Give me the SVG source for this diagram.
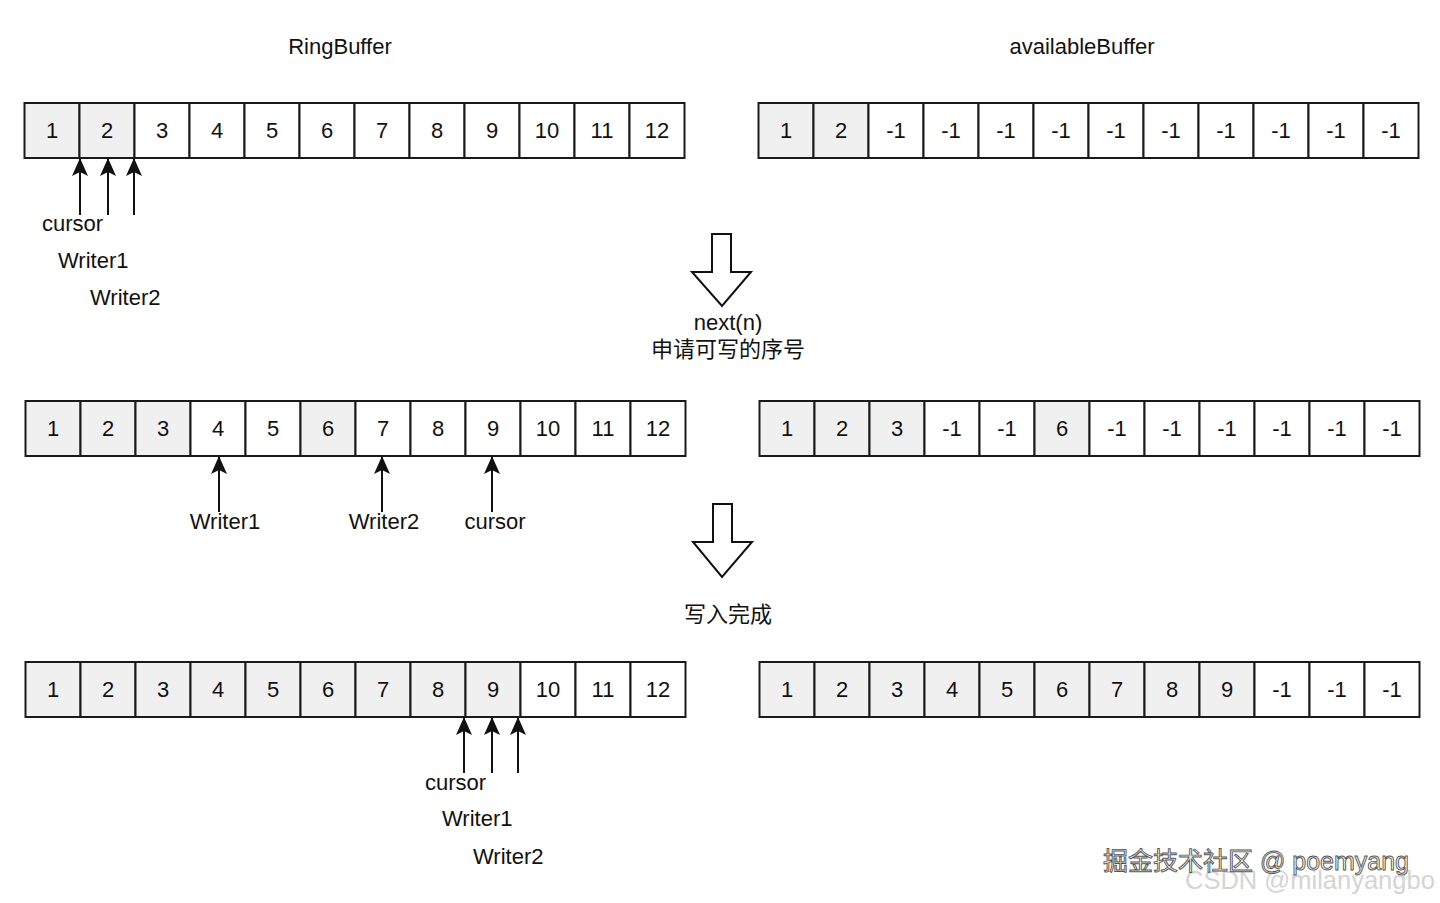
<svg xmlns="http://www.w3.org/2000/svg" width="1440" height="903" viewBox="0 0 1440 903">
<style>
.c{stroke:#1a1a1a;stroke-width:2;fill:#fff}
.g{stroke:#1a1a1a;stroke-width:2;fill:#f0f0f0}
.t{font-family:"Liberation Sans",Arial,sans-serif;font-size:22px;fill:#111;text-anchor:middle}
.l{font-family:"Liberation Sans",Arial,sans-serif;font-size:22px;fill:#111}
.z{font-family:"Liberation Sans","Noto Sans CJK SC",sans-serif;font-size:22px;fill:#111;text-anchor:middle}
.p{stroke:#111;stroke-width:2;fill:none;marker-end:url(#ah)}
.big{stroke:#111;stroke-width:2;fill:#fff;stroke-linejoin:miter}
</style>
<defs>
<marker id="ah" viewBox="0 0 18 16" refX="17" refY="8" markerWidth="18" markerHeight="16" markerUnits="userSpaceOnUse" orient="auto">
<path d="M0,0 L18,8 L0,16 L4,8 Z" fill="#111"/>
</marker>
</defs>
<rect width="1440" height="903" fill="#fff"/>

<text class="t" x="340" y="54">RingBuffer</text>
<text class="t" x="1082" y="54">availableBuffer</text>

<g id="ring1">
<rect class="g" x="24.5" y="103" width="55" height="55"/><text class="t" x="52" y="138">1</text>
<rect class="g" x="79.5" y="103" width="55" height="55"/><text class="t" x="107" y="138">2</text>
<rect class="c" x="134.5" y="103" width="55" height="55"/><text class="t" x="162" y="138">3</text>
<rect class="c" x="189.5" y="103" width="55" height="55"/><text class="t" x="217" y="138">4</text>
<rect class="c" x="244.5" y="103" width="55" height="55"/><text class="t" x="272" y="138">5</text>
<rect class="c" x="299.5" y="103" width="55" height="55"/><text class="t" x="327" y="138">6</text>
<rect class="c" x="354.5" y="103" width="55" height="55"/><text class="t" x="382" y="138">7</text>
<rect class="c" x="409.5" y="103" width="55" height="55"/><text class="t" x="437" y="138">8</text>
<rect class="c" x="464.5" y="103" width="55" height="55"/><text class="t" x="492" y="138">9</text>
<rect class="c" x="519.5" y="103" width="55" height="55"/><text class="t" x="547" y="138">10</text>
<rect class="c" x="574.5" y="103" width="55" height="55"/><text class="t" x="602" y="138">11</text>
<rect class="c" x="629.5" y="103" width="55" height="55"/><text class="t" x="657" y="138">12</text>
</g>

<g id="avail1">
<rect class="g" x="758.5" y="103" width="55" height="55"/><text class="t" x="786" y="138">1</text>
<rect class="g" x="813.5" y="103" width="55" height="55"/><text class="t" x="841" y="138">2</text>
<rect class="c" x="868.5" y="103" width="55" height="55"/><text class="t" x="896" y="138">-1</text>
<rect class="c" x="923.5" y="103" width="55" height="55"/><text class="t" x="951" y="138">-1</text>
<rect class="c" x="978.5" y="103" width="55" height="55"/><text class="t" x="1006" y="138">-1</text>
<rect class="c" x="1033.5" y="103" width="55" height="55"/><text class="t" x="1061" y="138">-1</text>
<rect class="c" x="1088.5" y="103" width="55" height="55"/><text class="t" x="1116" y="138">-1</text>
<rect class="c" x="1143.5" y="103" width="55" height="55"/><text class="t" x="1171" y="138">-1</text>
<rect class="c" x="1198.5" y="103" width="55" height="55"/><text class="t" x="1226" y="138">-1</text>
<rect class="c" x="1253.5" y="103" width="55" height="55"/><text class="t" x="1281" y="138">-1</text>
<rect class="c" x="1308.5" y="103" width="55" height="55"/><text class="t" x="1336" y="138">-1</text>
<rect class="c" x="1363.5" y="103" width="55" height="55"/><text class="t" x="1391" y="138">-1</text>
</g>

<g id="ring2">
<rect class="g" x="25.5" y="401" width="55" height="55"/><text class="t" x="53" y="436">1</text>
<rect class="g" x="80.5" y="401" width="55" height="55"/><text class="t" x="108" y="436">2</text>
<rect class="g" x="135.5" y="401" width="55" height="55"/><text class="t" x="163" y="436">3</text>
<rect class="c" x="190.5" y="401" width="55" height="55"/><text class="t" x="218" y="436">4</text>
<rect class="c" x="245.5" y="401" width="55" height="55"/><text class="t" x="273" y="436">5</text>
<rect class="g" x="300.5" y="401" width="55" height="55"/><text class="t" x="328" y="436">6</text>
<rect class="c" x="355.5" y="401" width="55" height="55"/><text class="t" x="383" y="436">7</text>
<rect class="c" x="410.5" y="401" width="55" height="55"/><text class="t" x="438" y="436">8</text>
<rect class="c" x="465.5" y="401" width="55" height="55"/><text class="t" x="493" y="436">9</text>
<rect class="c" x="520.5" y="401" width="55" height="55"/><text class="t" x="548" y="436">10</text>
<rect class="c" x="575.5" y="401" width="55" height="55"/><text class="t" x="603" y="436">11</text>
<rect class="c" x="630.5" y="401" width="55" height="55"/><text class="t" x="658" y="436">12</text>
</g>

<g id="avail2">
<rect class="g" x="759.5" y="401" width="55" height="55"/><text class="t" x="787" y="436">1</text>
<rect class="g" x="814.5" y="401" width="55" height="55"/><text class="t" x="842" y="436">2</text>
<rect class="g" x="869.5" y="401" width="55" height="55"/><text class="t" x="897" y="436">3</text>
<rect class="c" x="924.5" y="401" width="55" height="55"/><text class="t" x="952" y="436">-1</text>
<rect class="c" x="979.5" y="401" width="55" height="55"/><text class="t" x="1007" y="436">-1</text>
<rect class="g" x="1034.5" y="401" width="55" height="55"/><text class="t" x="1062" y="436">6</text>
<rect class="c" x="1089.5" y="401" width="55" height="55"/><text class="t" x="1117" y="436">-1</text>
<rect class="c" x="1144.5" y="401" width="55" height="55"/><text class="t" x="1172" y="436">-1</text>
<rect class="c" x="1199.5" y="401" width="55" height="55"/><text class="t" x="1227" y="436">-1</text>
<rect class="c" x="1254.5" y="401" width="55" height="55"/><text class="t" x="1282" y="436">-1</text>
<rect class="c" x="1309.5" y="401" width="55" height="55"/><text class="t" x="1337" y="436">-1</text>
<rect class="c" x="1364.5" y="401" width="55" height="55"/><text class="t" x="1392" y="436">-1</text>
</g>

<g id="ring3">
<rect class="g" x="25.5" y="662" width="55" height="55"/><text class="t" x="53" y="697">1</text>
<rect class="g" x="80.5" y="662" width="55" height="55"/><text class="t" x="108" y="697">2</text>
<rect class="g" x="135.5" y="662" width="55" height="55"/><text class="t" x="163" y="697">3</text>
<rect class="g" x="190.5" y="662" width="55" height="55"/><text class="t" x="218" y="697">4</text>
<rect class="g" x="245.5" y="662" width="55" height="55"/><text class="t" x="273" y="697">5</text>
<rect class="g" x="300.5" y="662" width="55" height="55"/><text class="t" x="328" y="697">6</text>
<rect class="g" x="355.5" y="662" width="55" height="55"/><text class="t" x="383" y="697">7</text>
<rect class="g" x="410.5" y="662" width="55" height="55"/><text class="t" x="438" y="697">8</text>
<rect class="g" x="465.5" y="662" width="55" height="55"/><text class="t" x="493" y="697">9</text>
<rect class="c" x="520.5" y="662" width="55" height="55"/><text class="t" x="548" y="697">10</text>
<rect class="c" x="575.5" y="662" width="55" height="55"/><text class="t" x="603" y="697">11</text>
<rect class="c" x="630.5" y="662" width="55" height="55"/><text class="t" x="658" y="697">12</text>
</g>

<g id="avail3">
<rect class="g" x="759.5" y="662" width="55" height="55"/><text class="t" x="787" y="697">1</text>
<rect class="g" x="814.5" y="662" width="55" height="55"/><text class="t" x="842" y="697">2</text>
<rect class="g" x="869.5" y="662" width="55" height="55"/><text class="t" x="897" y="697">3</text>
<rect class="g" x="924.5" y="662" width="55" height="55"/><text class="t" x="952" y="697">4</text>
<rect class="g" x="979.5" y="662" width="55" height="55"/><text class="t" x="1007" y="697">5</text>
<rect class="g" x="1034.5" y="662" width="55" height="55"/><text class="t" x="1062" y="697">6</text>
<rect class="g" x="1089.5" y="662" width="55" height="55"/><text class="t" x="1117" y="697">7</text>
<rect class="g" x="1144.5" y="662" width="55" height="55"/><text class="t" x="1172" y="697">8</text>
<rect class="g" x="1199.5" y="662" width="55" height="55"/><text class="t" x="1227" y="697">9</text>
<rect class="c" x="1254.5" y="662" width="55" height="55"/><text class="t" x="1282" y="697">-1</text>
<rect class="c" x="1309.5" y="662" width="55" height="55"/><text class="t" x="1337" y="697">-1</text>
<rect class="c" x="1364.5" y="662" width="55" height="55"/><text class="t" x="1392" y="697">-1</text>
</g>

<g id="step1">
<polygon class="big" points="712,234 731,234 731,272 751,272 722,306 692,272 712,272"/>
<text class="z" x="728" y="330">next(n)</text>
<text class="z" x="728" y="357">申请可写的序号</text>
</g>

<g id="step2">
<polygon class="big" points="713,504 732,504 732,542 752,542 722,577 693,542 713,542"/>
<text class="z" x="728" y="622">写入完成</text>
</g>

<g id="connectors">
<line class="p" x1="80" y1="215" x2="80" y2="159"/>
<line class="p" x1="108" y1="215" x2="108" y2="159"/>
<line class="p" x1="134" y1="215" x2="134" y2="159"/>
<line class="p" x1="219" y1="512" x2="219" y2="457"/>
<line class="p" x1="382" y1="512" x2="382" y2="457"/>
<line class="p" x1="492" y1="512" x2="492" y2="457"/>
<line class="p" x1="464" y1="773" x2="464" y2="718"/>
<line class="p" x1="492" y1="773" x2="492" y2="718"/>
<line class="p" x1="518" y1="773" x2="518" y2="718"/>
</g>

<g id="labels">
<text class="l" x="42" y="231">cursor</text>
<text class="l" x="58" y="268">Writer1</text>
<text class="l" x="90" y="305">Writer2</text>
<text class="t" x="225" y="529">Writer1</text>
<text class="t" x="384" y="529">Writer2</text>
<text class="t" x="495" y="529">cursor</text>
<text class="l" x="425" y="790">cursor</text>
<text class="l" x="442" y="826">Writer1</text>
<text class="l" x="473" y="864">Writer2</text>
</g>

<g id="watermark">
<text x="1185" y="889" font-family="Liberation Sans,Arial,sans-serif" font-size="25.5" fill="#d4d4d4">CSDN @milanyangbo</text>
<text x="1103" y="870" font-family="Liberation Sans,Noto Sans CJK SC,sans-serif" font-size="25" fill="#f2f2f2" stroke="#555" stroke-width="0.9">掘金技术社区 @ poemyang</text>
</g>
</svg>
